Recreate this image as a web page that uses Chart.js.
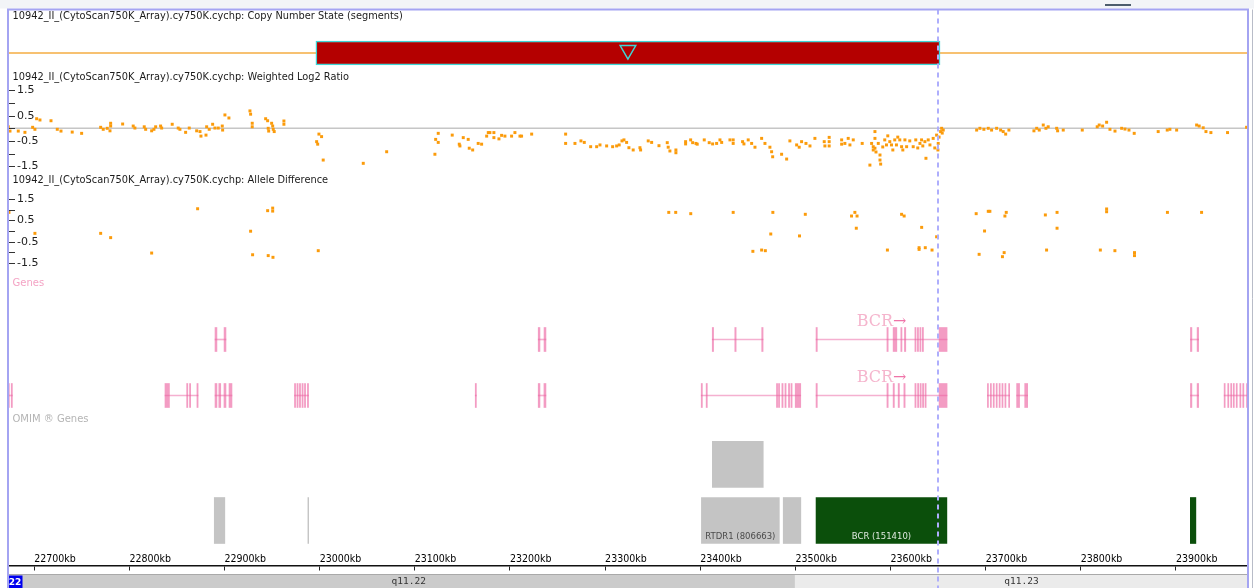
<!DOCTYPE html>
<html>
<head>
<meta charset="utf-8">
<title>chr22 BCR region</title>
<script src="https://cdn.jsdelivr.net/npm/chart.js@4.4.1/dist/chart.umd.min.js"></script>
<style>
  html, body { margin: 0; padding: 0; background: #fff; }
  #view { display: block; }
</style>
</head>
<body>
<canvas id="view" width="1254" height="588"></canvas>
<script>
// ---- data: genomic positions in kb on chr22 ----
const sampleName = '10942_II_(CytoScan750K_Array).cy750K.cychp';
const viewStartKb = 22664;
const viewEndKb = 23982;
const kbTicks = [22700, 22800, 22900, 23000, 23100, 23200, 23300, 23400, 23500, 23600, 23700, 23800, 23900];
const cursorKb = 23649.5;

// copy number state segments [start, end]
const cnSegments = [[22996, 23652]];

// weighted log2 ratio [kb, value]
const ratioPoints = [
  [22672.7,0.06],[22674.5,-0.11],[22683.2,-0.11],[22690.2,-0.16],[22698.3,0.04],[22700.7,-0.04],[22702.5,0.38],[22706.0,0.33],
  [22717.6,0.30],[22724.2,-0.04],[22728.1,-0.11],[22739.9,-0.15],[22749.8,-0.20],[22769.8,0.04],[22772.5,-0.04],[22776.7,0.00],
  [22779.6,-0.10],[22780.3,0.20],[22780.3,0.09],[22792.9,0.17],[22804.0,0.09],[22805.8,0.01],[22815.6,0.06],[22817.1,-0.04],
  [22823.4,-0.10],[22825.8,-0.04],[22827.6,0.06],[22832.8,0.09],[22833.9,0.01],[22845.0,0.16],[22851.3,0.01],[22853.1,-0.04],
  [22859.1,-0.16],[22862.9,0.01],[22870.7,-0.10],[22874.2,-0.13],[22875.2,-0.31],[22881.2,0.06],[22880.5,-0.27],[22883.9,-0.04],
  [22887.5,0.16],[22889.9,0.01],[22893.4,0.01],[22897.6,0.09],[22898.0,-0.07],[22900.4,0.53],[22904.6,0.41],[22926.7,0.69],
  [22927.4,0.56],[22929.1,0.20],[22929.1,0.06],[22943.2,0.38],[22945.3,0.30],[22945.9,0.00],[22946.4,-0.11],[22949.5,0.20],
  [22950.6,0.09],[22951.2,-0.04],[22952.2,-0.13],[22962.4,0.29],[22962.4,0.16],
  [22996.8,-0.53],[22997.9,-0.63],[22999.2,-0.23],[23002.0,-0.33],[23003.7,-1.26],[23045.8,-1.39],[23070.4,-0.93],
  [23121.1,-1.03],[23121.9,-0.44],[23124.6,-0.20],[23124.6,-0.56],[23139.3,-0.27],[23146.7,-0.63],[23147.4,-0.70],[23150.9,-0.37],
  [23156.1,-0.44],[23157.2,-0.79],[23160.8,-0.86],[23166.6,-0.60],[23170.2,-0.63],[23175.5,-0.31],[23177.2,-0.17],[23178.9,-0.17],
  [23183.1,-0.37],[23183.1,-0.17],[23188.4,-0.42],[23191.2,-0.28],[23194.7,-0.31],[23201.7,-0.31],[23205.2,-0.17],[23210.5,-0.31],
  [23212.2,-0.31],[23222.8,-0.23],
  [23258.5,-0.23],[23258.5,-0.60],[23268.3,-0.60],[23274.6,-0.50],[23278.1,-0.56],[23284.8,-0.73],[23291.1,-0.73],[23294.6,-0.66],
  [23301.6,-0.70],[23307.9,-0.73],[23312.1,-0.70],[23314.8,-0.66],[23317.7,-0.50],[23319.8,-0.46],[23322.6,-0.56],[23325.0,-0.77],
  [23329.5,-0.86],[23336.6,-0.77],[23337.3,-0.86],[23345.3,-0.50],[23348.9,-0.56],[23356.6,-0.69],[23365.3,-0.57],[23366.3,-0.75],
  [23368.1,-0.90],[23374.4,-0.86],[23374.4,-0.97],[23384.6,-0.53],[23384.6,-0.62],[23389.9,-0.46],[23392.0,-0.57],[23395.5,-0.60],
  [23396.8,-0.63],[23404.2,-0.46],[23409.4,-0.57],[23413.0,-0.62],[23417.2,-0.60],[23420.7,-0.46],[23422.5,-0.56],[23431.2,-0.46],
  [23434.6,-0.46],[23434.6,-0.60],[23444.5,-0.53],[23445.9,-0.62],[23450.4,-0.46],[23454.0,-0.60],[23457.5,-0.75],[23464.5,-0.40],
  [23468.0,-0.60],[23473.2,-0.75],[23475.0,-0.93],[23476.1,-1.13],[23485.5,-1.03],[23490.8,-1.22],[23494.2,-0.50],[23501.3,-0.66],
  [23504.0,-0.75],[23506.5,-0.53],[23511.1,-0.60],[23515.3,-0.70],[23520.5,-0.40],[23530.3,-0.53],[23531.0,-0.70],[23535.5,-0.36],
  [23535.5,-0.53],[23535.5,-0.70],
  [23548.6,-0.46],[23548.6,-0.63],[23552.0,-0.60],[23555.5,-0.40],[23557.3,-0.66],[23560.8,-0.46],[23570.2,-0.60],[23578.3,-1.46],
  [23580.1,-0.60],[23581.8,-0.73],[23581.8,-0.86],[23583.6,-0.13],[23583.6,-0.40],[23583.6,-0.79],[23584.7,-0.94],[23587.1,-0.60],
  [23588.9,-1.06],[23588.9,-1.26],[23589.6,-1.42],[23591.8,-0.74],[23593.9,-0.46],[23595.7,-0.66],[23597.1,-0.30],[23599.2,-0.53],
  [23601.0,-0.66],[23602.4,-0.86],[23604.4,-0.46],[23606.2,-0.66],[23607.6,-0.35],[23609.7,-0.46],[23611.6,-0.73],[23612.9,-0.86],
  [23615.1,-0.46],[23616.9,-0.73],[23620.2,-0.50],[23623.8,-0.73],[23626.5,-0.46],[23628.6,-0.78],[23630.9,-0.60],[23632.6,-0.46],
  [23633.9,-0.70],[23636.1,-0.53],[23637.2,-1.19],[23639.6,-0.46],[23641.4,-0.66],[23644.8,-0.40],[23646.5,-0.78],[23648.4,-0.27],
  [23649.8,-0.86],[23650.1,-0.60],[23651.0,-0.35],[23652.6,-0.13],[23653.7,0.00],[23654.3,-0.19],[23655.4,-0.07],
  [23690.5,-0.07],[23693.9,0.00],[23698.1,-0.04],[23702.7,0.00],[23706.2,-0.07],[23711.5,0.00],[23715.7,-0.07],[23718.4,-0.13],
  [23721.0,-0.23],[23724.4,-0.07],[23750.7,-0.10],[23753.6,0.00],[23756.3,-0.07],[23760.5,0.13],[23763.3,0.00],[23765.7,0.06],
  [23774.6,0.00],[23775.6,-0.10],[23781.5,-0.07],[23801.5,-0.07],[23817.2,0.06],[23819.3,0.13],[23822.9,0.09],[23827.1,0.24],
  [23830.6,-0.04],[23835.9,-0.11],[23842.9,0.00],[23846.4,-0.03],[23850.6,-0.07],[23856.1,-0.20],[23881.3,-0.13],[23890.8,-0.07],
  [23893.6,-0.04],[23900.7,-0.07],[23921.7,0.13],[23924.4,0.09],[23928.6,0.02],[23931.5,-0.13],[23936.7,-0.17],[23954.2,-0.17],
  [23974.2,0.04]
];

// allele difference [kb, value]
const alleleDiffPoints = [
  [22673.4,0.87],[22700.7,-0.11],[22769.8,-0.11],[22780.3,-0.31],[22823.4,-1.03],[22871.7,1.04],[22927.4,-0.01],[22929.5,-1.11],
  [22945.3,0.95],[22950.6,1.07],[22950.6,0.93],[22945.9,-1.15],[22950.9,-1.23],[22998.5,-0.92],
  [23366.9,0.87],[23374.2,0.87],[23390.0,0.81],[23434.6,0.87],[23476.3,0.87],[23474.1,-0.14],[23455.3,-0.95],[23464.5,-0.89],
  [23468.4,-0.92],[23510.4,0.78],[23504.3,-0.23],[23562.5,0.87],[23559.0,0.70],[23564.8,0.70],[23564.0,0.13],[23596.7,-0.89],
  [23611.6,0.78],[23614.3,0.70],[23632.7,0.17],[23630.0,-0.78],[23630.0,-0.86],[23636.5,-0.78],[23643.6,-0.89],[23648.4,-0.27],
  [23690.0,0.81],[23702.7,0.92],[23704.4,0.92],[23721.6,0.87],[23720.2,0.70],[23698.8,0.00],[23693.1,-1.09],[23719.4,-1.01],
  [23717.6,-1.20],[23762.7,0.75],[23775.0,0.87],[23775.0,0.13],[23764.0,-0.89],[23827.1,1.03],[23827.1,0.90],[23820.5,-0.89],
  [23835.8,-0.92],[23856.4,-1.01],[23856.4,-1.15],[23891.0,0.87],[23926.9,0.87]
];

const valueTickMarks = [1.5, 1, 0.5, 0, -0.5, -1, -1.5];
const valueTickLabels = [1.5, 0.5, -0.5, -1.5];

// RefSeq transcripts, two display rows
const genesRow1 = [
  { from: 22890.0, to: 22901.5, exons: [[22890.0,22892.0],[22899.5,22901.5]] },
  { from: 23229.7, to: 23237.8, exons: [[23229.7,23231.5],[23235.8,23237.8]] },
  { from: 23412.6, to: 23466.0, exons: [[23412.6,23414.0],[23436.3,23437.7],[23464.6,23466.0]] },
  { name: 'BCR', strand: '+', from: 23521.7, to: 23659.4,
    exons: [[23521.7,23523.0],[23596.2,23597.5],[23602.7,23606.6],[23610.8,23612.0],[23614.6,23616.0],
            [23625.6,23626.8],[23628.2,23629.4],[23630.8,23632.0],[23633.4,23634.6],[23651.0,23659.4]] },
  { from: 23915.2, to: 23923.8, exons: [[23915.2,23916.7],[23922.2,23923.8]] }
];
const genesRow2 = [
  { from: 22672.6, to: 22677.0, exons: [[22672.6,22673.8],[22675.8,22677.0]] },
  { from: 22837.4, to: 22872.2, exons: [[22837.4,22842.1],[22860.2,22861.4],[22863.2,22864.4],[22871.0,22872.2]] },
  { from: 22890.0, to: 22907.8, exons: [[22890.0,22892.0],[22894.0,22896.0],[22899.4,22901.5],[22904.7,22907.8]] },
  { from: 22973.5, to: 22988.3, exons: [[22973.5,22974.7],[22976.1,22977.3],[22978.7,22979.9],[22981.4,22982.6],[22984.0,22985.2],[22987.1,22988.3]] },
  { from: 23163.5, to: 23164.7, exons: [[23163.5,23164.7]] },
  { from: 23229.7, to: 23237.8, exons: [[23229.7,23231.5],[23235.7,23237.8]] },
  { from: 23401.0, to: 23505.6, exons: [[23401.0,23402.2],[23406.2,23407.4],[23480.1,23481.3],[23482.2,23483.4],[23485.8,23487.0],
                                         [23489.0,23490.2],[23492.7,23493.9],[23495.3,23496.5],[23499.8,23505.6]] },
  { name: 'BCR', strand: '+', from: 23521.7, to: 23659.4,
    exons: [[23521.7,23523.0],[23596.2,23597.5],[23602.7,23604.0],[23608.0,23609.3],[23614.0,23615.3],[23625.6,23626.8],
            [23628.4,23629.6],[23631.0,23632.2],[23633.6,23634.8],[23636.2,23637.4],[23651.0,23659.4]] },
  { from: 23701.8, to: 23725.2, exons: [[23701.8,23702.9],[23704.9,23706.0],[23707.9,23709.0],[23711.0,23712.1],[23714.1,23715.2],
                                         [23717.1,23718.2],[23720.2,23721.3],[23724.1,23725.2]] },
  { from: 23732.5, to: 23744.1, exons: [[23732.5,23735.6],[23741.0,23744.1]] },
  { from: 23915.2, to: 23923.8, exons: [[23915.2,23916.7],[23922.2,23923.8]] },
  { from: 23950.6, to: 23975.2, exons: [[23950.6,23951.7],[23954.4,23955.5],[23957.5,23958.6],[23960.2,23961.3],[23963.3,23964.4],
                                         [23967.1,23968.2],[23970.2,23971.3],[23974.1,23975.2]] }
];

// OMIM entries; 'morbid' = gene with a phenotype entry
const omimRow1 = [
  { from: 23412.7, to: 23466.2, kind: 'gene' }
];
const omimRow2 = [
  { from: 22889.2, to: 22900.3, kind: 'gene' },
  { from: 22987.6, to: 22988.4, kind: 'gene' },
  { from: 23401.2, to: 23483.1, kind: 'gene', label: 'RTDR1 (806663)' },
  { from: 23487.2, to: 23505.7, kind: 'gene' },
  { from: 23521.7, to: 23659.2, kind: 'morbid', label: 'BCR (151410)' },
  { from: 23915.1, to: 23920.9, kind: 'morbid' }
];

const cytobands = [
  { name: 'q11.22', from: 22500, to: 23499.5 },
  { name: 'q11.23', from: 23499.5, to: 24100 }
];
const chromName = '22';

// ---- layout & style ----
const H = 588;
const layout = {
  frameLeft: 8, frameRight: 1248, frameTop: 9.5,
  titleX: 12.5,
  titleY: { cn: 16.5, ratio: 77, ad: 180.5 },
  ratioZeroY: 128.3, ratioPx: 25.2,
  adZeroY: 231, adPx: 21.4,
  lanes: { cnMark: 50, cn: 53, gene1: 339.5, gene2: 395.5, omim1: 464.3, omim2: 520.5 },
  genesLabelY: 283, omimLabelY: 419,
  axisY: 566, bandTop: 574.5, bandBottom: 588
};
const colors = {
  point: '#fb9b0b', cnLine: '#f5ad42', loss: '#b40000', cyan: '#3fd6d6',
  baseline: '#c6c6c6', exon: 'rgba(236,96,158,0.62)', intron: 'rgba(241,150,192,0.75)',
  omim: { gene: '#c4c4c4', morbid: '#0b4f0b' }, band: ['#cbcbcb', '#ebebeb'],
  frame: '#a4a4f2', cursor: '#aeaefc'
};
const fonts = {
  title: '9.8px "DejaVu Sans"',
  tick: '11px "DejaVu Sans"',
  label: '10px "DejaVu Sans"',
  gene: '16px "DejaVu Serif"',
  omim: '8.5px "DejaVu Sans"',
  band: '9.5px "DejaVu Sans Mono"'
};

const lanes = layout.lanes;

function geneDatasets(genes, lane) {
  return [
    { type: 'bar', indexAxis: 'y', yAxisID: 'yTrack', grouped: false, barThickness: 24,
      data: genes.flatMap(g => g.exons.map(e => ({ x: e, y: lane }))),
      backgroundColor: colors.exon, borderWidth: 0 },
    { type: 'bar', indexAxis: 'y', yAxisID: 'yTrack', grouped: false, barThickness: 1,
      data: genes.map(g => ({ x: [g.from, g.to], y: lane })),
      backgroundColor: colors.intron, borderWidth: 0 }
  ];
}

function omimDataset(items, lane) {
  return {
    type: 'bar', indexAxis: 'y', yAxisID: 'yTrack', grouped: false, barThickness: 46, role: 'omim',
    data: items.map(o => ({ x: [o.from, o.to], y: lane, kind: o.kind, label: o.label })),
    backgroundColor: c => (c.raw ? colors.omim[c.raw.kind] : colors.omim.gene),
    borderWidth: 0
  };
}

const pointStyle = { pointStyle: 'rect', radius: 2.1, borderWidth: 0, backgroundColor: colors.point };

// first dataset is drawn on top
const datasets = [
  { type: 'scatter', yAxisID: 'yTrack', pointStyle: 'triangle', rotation: 180, radius: 9,
    borderColor: colors.cyan, borderWidth: 1.5, backgroundColor: 'rgba(0,0,0,0)',
    data: cnSegments.map(s => ({ x: (s[0] + s[1]) / 2, y: lanes.cnMark })) },
  { type: 'bar', indexAxis: 'y', yAxisID: 'yTrack', grouped: false, barThickness: 24,
    data: cnSegments.map(s => ({ x: s, y: lanes.cn })),
    backgroundColor: colors.loss, borderColor: colors.cyan, borderWidth: 1.5, borderSkipped: false },
  { type: 'line', yAxisID: 'yTrack', borderColor: colors.cnLine, borderWidth: 1.5, pointRadius: 0,
    data: [{ x: viewStartKb, y: lanes.cn }, { x: viewEndKb, y: lanes.cn }] },
  { type: 'scatter', yAxisID: 'yLog', ...pointStyle, data: ratioPoints.map(p => ({ x: p[0], y: p[1] })) },
  { type: 'line', yAxisID: 'yLog', borderColor: colors.baseline, borderWidth: 1.5, pointRadius: 0,
    data: [{ x: viewStartKb, y: 0 }, { x: viewEndKb, y: 0 }] },
  { type: 'scatter', yAxisID: 'yAD', ...pointStyle, data: alleleDiffPoints.map(p => ({ x: p[0], y: p[1] })) },
  ...geneDatasets(genesRow1, lanes.gene1),
  ...geneDatasets(genesRow2, lanes.gene2),
  omimDataset(omimRow1, lanes.omim1),
  omimDataset(omimRow2, lanes.omim2)
];

function valueScale(zeroY, px) {
  return { type: 'linear', display: false, min: -(H - zeroY) / px, max: zeroY / px };
}

function drawValueTicks(ctx, scale) {
  ctx.strokeStyle = '#333';
  ctx.lineWidth = 1;
  valueTickMarks.forEach(v => {
    const y = Math.round(scale.getPixelForValue(v)) + 0.5;
    ctx.beginPath(); ctx.moveTo(9, y); ctx.lineTo(15, y); ctx.stroke();
  });
  ctx.font = fonts.tick;
  ctx.fillStyle = '#222';
  ctx.textAlign = 'left';
  ctx.textBaseline = 'middle';
  valueTickLabels.forEach(v => ctx.fillText(v.toFixed(1), 17, scale.getPixelForValue(v)));
}

function drawGeneNames(ctx, xs, genes, lane) {
  ctx.font = fonts.gene;
  ctx.textBaseline = 'alphabetic';
  ctx.textAlign = 'left';
  genes.filter(g => g.name).forEach(g => {
    const arrow = g.strand === '+' ? '\u2192' : '\u2190';
    const w1 = ctx.measureText(g.name).width;
    const w2 = ctx.measureText(arrow).width;
    const x0 = xs.getPixelForValue((g.from + g.to) / 2) - (w1 + w2) / 2;
    ctx.fillStyle = '#f5b5cd';
    ctx.fillText(g.name, x0, lane - 13.5);
    ctx.fillStyle = '#ef74a8';
    ctx.fillText(arrow, x0 + w1, lane - 13.5);
  });
}

const trackDecor = {
  id: 'trackDecor',
  beforeDraw(chart) {
    const { ctx, width, height } = chart;
    ctx.save();
    ctx.fillStyle = '#fff';
    ctx.fillRect(0, 0, width, height);
    ctx.restore();
  },
  afterDatasetsDraw(chart) {
    const { ctx, scales } = chart;
    const xs = scales.x;
    ctx.save();

    // track titles
    ctx.font = fonts.title;
    ctx.fillStyle = '#1a1a1a';
    ctx.textAlign = 'left';
    ctx.textBaseline = 'middle';
    ctx.fillText(sampleName + ': Copy Number State (segments)', layout.titleX, layout.titleY.cn);
    ctx.fillText(sampleName + ': Weighted Log2 Ratio', layout.titleX, layout.titleY.ratio);
    ctx.fillText(sampleName + ': Allele Difference', layout.titleX, layout.titleY.ad);

    drawValueTicks(ctx, scales.yLog);
    drawValueTicks(ctx, scales.yAD);

    // annotation track names
    ctx.font = fonts.label;
    ctx.textBaseline = 'middle';
    ctx.fillStyle = '#f4a3c4';
    ctx.fillText('Genes', layout.titleX, layout.genesLabelY);
    ctx.fillStyle = '#b4b4b4';
    ctx.fillText('OMIM \u00ae Genes', layout.titleX, layout.omimLabelY);

    drawGeneNames(ctx, xs, genesRow1, lanes.gene1);
    drawGeneNames(ctx, xs, genesRow2, lanes.gene2);

    // OMIM box captions
    ctx.font = fonts.omim;
    ctx.textAlign = 'center';
    ctx.textBaseline = 'middle';
    chart.data.datasets.forEach((ds, i) => {
      if (ds.role !== 'omim') return;
      chart.getDatasetMeta(i).data.forEach((bar, j) => {
        const item = ds.data[j];
        if (!item.label) return;
        ctx.fillStyle = item.kind === 'morbid' ? '#dfe9df' : '#4a4a4a';
        ctx.fillText(item.label, (bar.x + bar.base) / 2, bar.y + 16);
      });
    });
    ctx.restore();
  },
  afterDraw(chart) {
    const { ctx, width, height, scales } = chart;
    const xs = scales.x;
    const L = layout.frameLeft, R = layout.frameRight;
    ctx.save();

    // cytoband strip
    cytobands.forEach((b, i) => {
      const x1 = Math.max(L, xs.getPixelForValue(b.from));
      const x2 = Math.min(R, xs.getPixelForValue(b.to));
      ctx.fillStyle = colors.band[i % colors.band.length];
      ctx.fillRect(x1, layout.bandTop, x2 - x1, layout.bandBottom - layout.bandTop);
    });
    ctx.strokeStyle = '#a9a9a9';
    ctx.lineWidth = 1;
    ctx.beginPath(); ctx.moveTo(L, layout.bandTop); ctx.lineTo(R, layout.bandTop); ctx.stroke();
    const chromBoxRight = L + 14.5;
    ctx.font = fonts.band;
    ctx.fillStyle = '#333';
    ctx.textAlign = 'center';
    ctx.textBaseline = 'middle';
    cytobands.forEach(b => {
      const x1 = Math.max(chromBoxRight, xs.getPixelForValue(b.from));
      const x2 = Math.min(R, xs.getPixelForValue(b.to));
      ctx.fillText(b.name, (x1 + x2) / 2, (layout.bandTop + layout.bandBottom) / 2 + 0.5);
    });
    ctx.fillStyle = '#0000ee';
    ctx.fillRect(L - 0.5, layout.bandTop + 1, 15, layout.bandBottom - layout.bandTop - 1);
    ctx.fillStyle = '#fff';
    ctx.font = 'bold 9px "DejaVu Sans"';
    ctx.fillText(chromName, L + 7, layout.bandTop + 8);

    // cursor
    const cx = Math.round(xs.getPixelForValue(cursorKb));
    ctx.strokeStyle = colors.cursor;
    ctx.lineWidth = 2;
    ctx.setLineDash([5, 4]);
    ctx.beginPath(); ctx.moveTo(cx, layout.frameTop); ctx.lineTo(cx, height); ctx.stroke();
    ctx.setLineDash([]);

    // window margins and frame
    ctx.fillStyle = '#ffffff';
    ctx.fillRect(0, 0, L - 1, height);
    ctx.fillRect(R + 1, 0, width - R - 1, height);
    ctx.fillStyle = '#f2f4f7';
    ctx.fillRect(0, 0, width, layout.frameTop - 1);
    ctx.fillStyle = '#4d5d6d';
    ctx.fillRect(1105, 4, 26, 2);
    ctx.strokeStyle = colors.frame;
    ctx.lineWidth = 2;
    ctx.beginPath();
    ctx.moveTo(L, height); ctx.lineTo(L, layout.frameTop); ctx.lineTo(R, layout.frameTop); ctx.lineTo(R, height);
    ctx.stroke();
    ctx.strokeStyle = '#b8bcc8';
    ctx.lineWidth = 1;
    ctx.beginPath(); ctx.moveTo(1252.5, layout.frameTop); ctx.lineTo(1252.5, height); ctx.stroke();
    ctx.restore();
  }
};

new Chart(document.getElementById('view'), {
  type: 'scatter',
  data: { datasets },
  options: {
    responsive: false,
    animation: false,
    devicePixelRatio: 1,
    events: [],
    layout: { padding: 0, autoPadding: false },
    plugins: { legend: { display: false }, tooltip: { enabled: false } },
    scales: {
      x: {
        type: 'linear', min: viewStartKb, max: viewEndKb, beginAtZero: false,
        position: { yTrack: layout.axisY },
        afterBuildTicks: axis => { axis.ticks = kbTicks.map(v => ({ value: v })); },
        ticks: {
          align: 'start', padding: -17, autoSkip: false, maxRotation: 0,
          color: '#000', font: { family: "'DejaVu Sans Condensed', 'DejaVu Sans'", size: 10.5 },
          callback: v => v + 'kb'
        },
        grid: { drawOnChartArea: false, drawTicks: true, tickLength: 4, color: '#222', lineWidth: 1 },
        border: { display: true, color: '#111', width: 1.5 }
      },
      yTrack: { type: 'linear', display: false, reverse: true, min: 0, max: H, offset: false },
      yLog: valueScale(layout.ratioZeroY, layout.ratioPx),
      yAD: valueScale(layout.adZeroY, layout.adPx)
    }
  },
  plugins: [trackDecor]
});
</script>
</body>
</html>
